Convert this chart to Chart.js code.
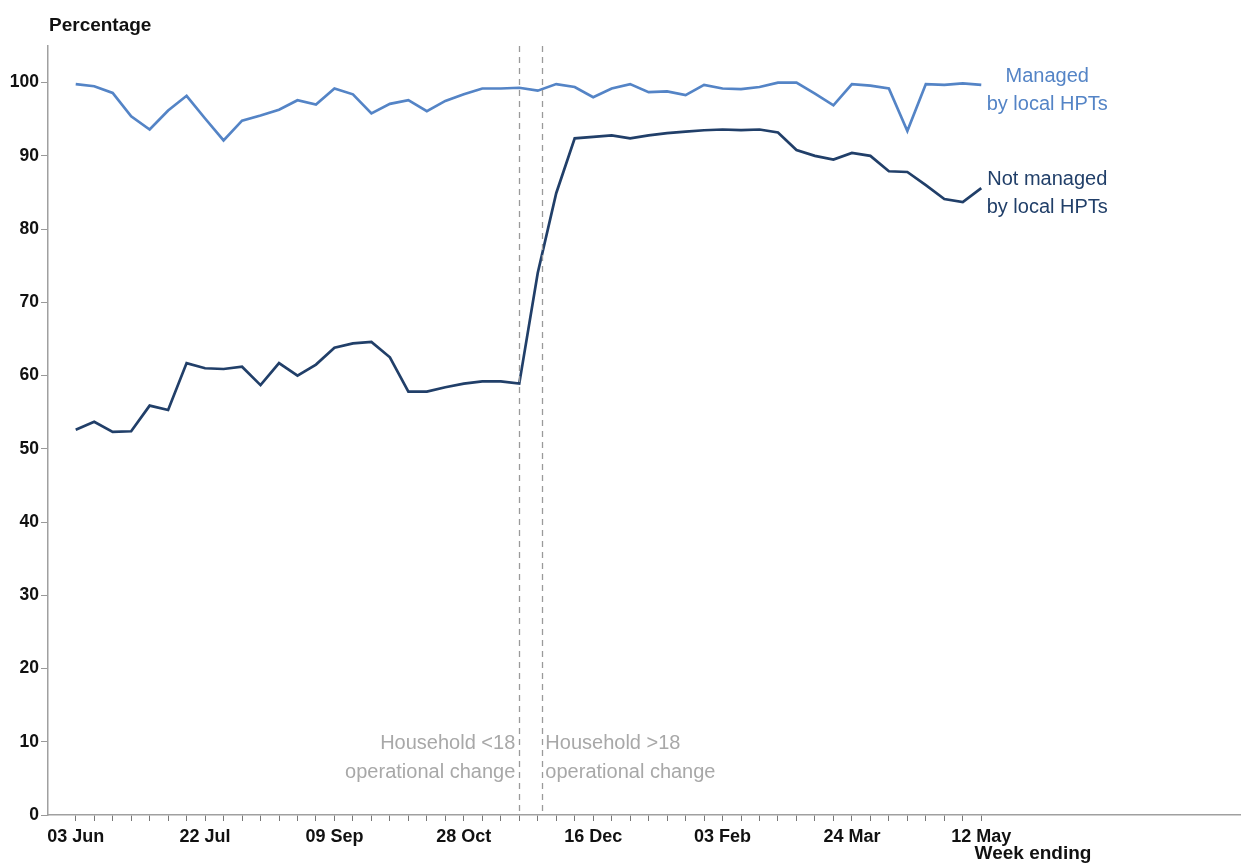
<!DOCTYPE html>
<html>
<head>
<meta charset="utf-8">
<script src="https://cdn.jsdelivr.net/npm/chart.js@4"></script>
<style>
  html, body { margin: 0; padding: 0; background: #fff; }
  #wrap { width: 1244px; height: 865px; }
</style>
</head>
<body>
<div id="wrap"><canvas id="hptChart" width="1244" height="865"></canvas></div>
<script>
// Week ending labels (one per week, 03 Jun to 12 May)
const weeks = [
  '03 Jun','10 Jun','17 Jun','24 Jun','01 Jul','08 Jul','15 Jul','22 Jul','29 Jul','05 Aug',
  '12 Aug','19 Aug','26 Aug','02 Sep','09 Sep','16 Sep','23 Sep','30 Sep','07 Oct','14 Oct',
  '21 Oct','28 Oct','04 Nov','11 Nov','18 Nov','25 Nov','02 Dec','09 Dec','16 Dec','23 Dec',
  '30 Dec','06 Jan','13 Jan','20 Jan','27 Jan','03 Feb','10 Feb','17 Feb','24 Feb','03 Mar',
  '10 Mar','17 Mar','24 Mar','31 Mar','07 Apr','14 Apr','21 Apr','28 Apr','05 May','12 May'
];

// Percentage managed by local HPTs
const managed = [
  99.8, 99.5, 98.6, 95.4, 93.6, 96.2, 98.2, 95.1, 92.1, 94.8,
  95.5, 96.3, 97.6, 97.0, 99.2, 98.4, 95.8, 97.1, 97.6, 96.1,
  97.5, 98.4, 99.2, 99.2, 99.3, 98.9, 99.8, 99.4, 98.0, 99.2,
  99.8, 98.7, 98.8, 98.3, 99.7, 99.2, 99.1, 99.4, 100.0, 100.0,
  98.5, 96.9, 99.8, 99.6, 99.2, 93.4, 99.8, 99.7, 99.9, 99.7
];

// Percentage not managed by local HPTs
const notManaged = [
  52.6, 53.7, 52.3, 52.4, 55.9, 55.3, 61.7, 61.0, 60.9, 61.2,
  58.7, 61.7, 60.0, 61.5, 63.8, 64.4, 64.6, 62.5, 57.8, 57.8,
  58.4, 58.9, 59.2, 59.2, 58.9, 74.0, 84.9, 92.4, 92.6, 92.8,
  92.4, 92.8, 93.1, 93.3, 93.5, 93.6, 93.5, 93.6, 93.2, 90.8,
  90.0, 89.5, 90.4, 90.0, 87.9, 87.8, 86.0, 84.1, 83.7, 85.6
];

// Operational change markers (week index)
const changeWeeks = [24, 25.25];
const changeText = [
  ['Household <18', 'operational change'],
  ['Household >18', 'operational change']
];

const yTicks = [0, 10, 20, 30, 40, 50, 60, 70, 80, 90, 100];

const lightBlue = '#5484c6';
const darkBlue = '#213f69';
const fontFam = '"Liberation Sans", Arial, sans-serif';

// extra text drawn on the canvas: titles, series labels, change markers
const textPlugin = {
  id: 'textPlugin',
  afterDraw(chart) {
    const ctx = chart.ctx;
    const x = chart.scales.x, y = chart.scales.y;
    const area = chart.chartArea;
    ctx.save();

    // dashed operational change lines
    ctx.strokeStyle = '#9a9a9a';
    ctx.lineWidth = 1.3;
    ctx.setLineDash([6, 5]);
    changeWeeks.forEach(w => {
      const px = Math.round(x.getPixelForValue(w)) + 0.5;
      ctx.beginPath();
      ctx.moveTo(px, area.top);
      ctx.lineTo(px, area.bottom);
      ctx.stroke();
    });
    ctx.setLineDash([]);

    ctx.font = '20px ' + fontFam;
    ctx.fillStyle = '#a8a8a8';
    ctx.textBaseline = 'alphabetic';
    const p0 = x.getPixelForValue(changeWeeks[0]);
    const p1 = x.getPixelForValue(changeWeeks[1]);
    ctx.textAlign = 'right';
    ctx.fillText(changeText[0][0], p0 - 4, 749);
    ctx.fillText(changeText[0][1], p0 - 4, 778);
    ctx.textAlign = 'left';
    ctx.fillText(changeText[1][0], p1 + 3, 749);
    ctx.fillText(changeText[1][1], p1 + 3, 778);

    // series labels next to the last point
    const last = weeks.length - 1;
    const lx = x.getPixelForValue(last) + 66;
    ctx.textAlign = 'center';
    ctx.fillStyle = lightBlue;
    const my = y.getPixelForValue(managed[last]);
    ctx.fillText('Managed', lx, my - 3);
    ctx.fillText('by local HPTs', lx, my + 25);
    ctx.fillStyle = darkBlue;
    const ny = y.getPixelForValue(notManaged[last]);
    ctx.fillText('Not managed', lx, ny - 3);
    ctx.fillText('by local HPTs', lx, ny + 25);

    // axis titles
    ctx.fillStyle = '#111';
    ctx.font = 'bold 19px ' + fontFam;
    ctx.textAlign = 'left';
    ctx.fillText('Percentage', 49, 31);
    ctx.textAlign = 'center';
    ctx.fillText('Week ending', 1033, 859);
    ctx.restore();
  }
};

const ctx = document.getElementById('hptChart').getContext('2d');
const hptChart = new Chart(ctx, {
  type: 'line',
  data: {
    datasets: [
      {
        label: 'Managed by local HPTs',
        data: managed.map((v, i) => ({ x: i, y: v })),
        borderColor: lightBlue,
        borderWidth: 2.7,
        pointRadius: 0,
        tension: 0
      },
      {
        label: 'Not managed by local HPTs',
        data: notManaged.map((v, i) => ({ x: i, y: v })),
        borderColor: darkBlue,
        borderWidth: 2.7,
        pointRadius: 0,
        tension: 0
      }
    ]
  },
  options: {
    responsive: false,
    animation: false,
    layout: { padding: { top: 46, right: 4, left: 0, bottom: 0 } },
    plugins: {
      legend: { display: false },
      tooltip: { enabled: false }
    },
    scales: {
      x: {
        type: 'linear',
        min: -1.5,
        max: 63,
        afterBuildTicks: scale => {
          scale.ticks = weeks.map((w, i) => ({ value: i }));
        },
        afterFit: scale => { scale.height = 50; },
        border: { display: true, color: '#a0a0a0', width: 1.5 },
        grid: { drawOnChartArea: false, drawTicks: true, tickLength: 6, color: '#777', lineWidth: 1 },
        ticks: {
          autoSkip: false,
          maxRotation: 0,
          padding: 5,
          color: '#111',
          font: { family: fontFam, size: 18, weight: 'bold' },
          callback: v => (v % 7 === 0 ? weeks[v] : '')
        }
      },
      y: {
        min: 0,
        max: 105,
        afterBuildTicks: scale => {
          scale.ticks = yTicks.map(v => ({ value: v }));
        },
        afterFit: scale => { scale.width = 48; },
        border: { display: true, color: '#a0a0a0', width: 1.5 },
        grid: { drawOnChartArea: false, drawTicks: true, tickLength: 7, color: '#999' },
        ticks: {
          padding: 2,
          color: '#111',
          font: { family: fontFam, size: 17.5, weight: 'bold' }
        }
      }
    }
  },
  plugins: [textPlugin]
});
</script>
</body>
</html>
